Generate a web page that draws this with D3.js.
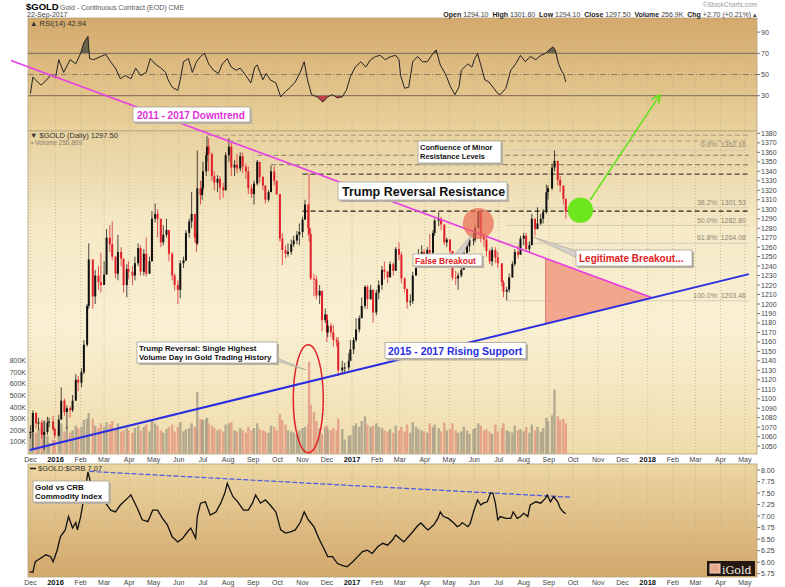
<!DOCTYPE html>
<html>
<head>
<meta charset="utf-8">
<script src="https://cdn.jsdelivr.net/npm/d3@7"></script>
<style>
  body { margin: 0; background: #fff; }
  svg { display: block; font-family: Arial, "Liberation Sans", sans-serif; }
</style>
</head>
<body>
<script>
// ---- data ----
// [date, high, low, close, volume (K)]
const priceRows = [
  ["2015-12-01",1072,1058,1065,190],["2015-12-04",1088,1046,1085,260],["2015-12-08",1086,1069,1074,180],
  ["2015-12-11",1080,1067,1075,210],["2015-12-15",1078,1058,1062,240],["2015-12-18",1077,1046,1065,280],
  ["2015-12-22",1081,1062,1075,150],["2015-12-24",1080,1070,1076,90],["2015-12-29",1082,1066,1068,120],
  ["2015-12-31",1070,1058,1061,110],["2016-01-05",1083,1060,1078,210],["2016-01-08",1112,1083,1098,260],
  ["2016-01-12",1100,1082,1086,190],["2016-01-15",1093,1068,1090,230],["2016-01-19",1092,1080,1088,180],
  ["2016-01-22",1104,1086,1098,200],["2016-01-26",1126,1098,1120,240],["2016-01-29",1124,1108,1117,220],
  ["2016-02-02",1132,1112,1128,230],["2016-02-05",1162,1126,1157,290],["2016-02-09",1200,1155,1198,300],
  ["2016-02-11",1264,1195,1247,350],["2016-02-16",1240,1195,1208,300],["2016-02-19",1236,1200,1230,240],
  ["2016-02-23",1240,1215,1223,220],["2016-02-26",1254,1212,1220,260],["2016-03-01",1245,1225,1231,230],
  ["2016-03-04",1279,1238,1270,270],["2016-03-08",1283,1255,1263,250],["2016-03-11",1287,1246,1250,280],
  ["2016-03-15",1250,1227,1232,210],["2016-03-18",1273,1225,1255,260],["2016-03-22",1260,1240,1248,190],
  ["2016-03-25",1240,1212,1220,200],["2016-03-29",1242,1207,1237,220],["2016-03-31",1245,1226,1234,200],
  ["2016-04-05",1240,1220,1230,180],["2016-04-08",1250,1225,1243,220],["2016-04-12",1264,1240,1259,240],
  ["2016-04-15",1262,1230,1234,200],["2016-04-19",1258,1230,1253,230],["2016-04-22",1270,1229,1232,250],
  ["2016-04-26",1250,1232,1245,190],["2016-04-29",1298,1245,1290,280],["2016-05-03",1306,1286,1295,260],
  ["2016-05-06",1300,1270,1290,240],["2016-05-10",1278,1260,1265,200],["2016-05-13",1283,1262,1273,180],
  ["2016-05-17",1290,1270,1278,210],["2016-05-20",1278,1245,1253,230],["2016-05-24",1255,1225,1230,250],
  ["2016-05-27",1232,1214,1220,190],["2016-05-31",1225,1200,1215,230],["2016-06-03",1246,1206,1243,270],
  ["2016-06-07",1250,1238,1246,190],["2016-06-10",1278,1245,1275,210],["2016-06-14",1290,1270,1287,220],
  ["2016-06-17",1318,1280,1295,260],["2016-06-21",1295,1265,1270,230],["2016-06-23",1275,1255,1264,210],
  ["2016-06-24",1362,1262,1322,530],["2016-06-28",1330,1305,1315,300],["2016-06-30",1330,1310,1322,280],
  ["2016-07-01",1350,1320,1340,290],["2016-07-05",1360,1335,1357,300],["2016-07-06",1377,1350,1366,310],
  ["2016-07-08",1375,1340,1358,260],["2016-07-12",1360,1330,1335,240],["2016-07-15",1340,1320,1328,220],
  ["2016-07-19",1336,1318,1332,200],["2016-07-22",1335,1310,1323,210],["2016-07-26",1328,1312,1320,190],
  ["2016-07-29",1360,1320,1357,250],["2016-08-02",1375,1350,1366,260],["2016-08-05",1370,1335,1344,270],
  ["2016-08-09",1352,1335,1347,200],["2016-08-12",1358,1338,1343,190],["2016-08-16",1360,1340,1356,220],
  ["2016-08-19",1360,1338,1345,200],["2016-08-23",1348,1332,1340,180],["2016-08-26",1345,1316,1322,230],
  ["2016-08-30",1326,1312,1316,200],["2016-09-02",1330,1305,1327,220],["2016-09-06",1352,1325,1350,260],
  ["2016-09-09",1345,1328,1334,210],["2016-09-13",1335,1320,1325,200],["2016-09-16",1325,1306,1310,190],
  ["2016-09-20",1320,1308,1318,180],["2016-09-23",1346,1330,1340,240],["2016-09-27",1345,1325,1330,230],
  ["2016-09-30",1330,1315,1316,200],["2016-10-04",1315,1266,1269,340],["2016-10-07",1275,1241,1257,290],
  ["2016-10-11",1262,1248,1253,250],["2016-10-14",1264,1250,1255,200],["2016-10-18",1268,1252,1263,190],
  ["2016-10-21",1272,1260,1267,180],["2016-10-25",1277,1263,1273,170],["2016-10-28",1285,1262,1276,200],
  ["2016-11-01",1292,1270,1289,220],["2016-11-04",1310,1290,1305,230],["2016-11-08",1300,1272,1280,250],
  ["2016-11-09",1338,1266,1274,790],["2016-11-11",1280,1225,1227,420],["2016-11-15",1232,1208,1226,360],
  ["2016-11-18",1230,1205,1209,280],["2016-11-22",1220,1200,1214,220],["2016-11-25",1195,1171,1183,170],
  ["2016-11-29",1195,1180,1189,230],["2016-12-01",1187,1160,1170,240],["2016-12-02",1183,1165,1177,210],
  ["2016-12-06",1180,1165,1170,200],["2016-12-09",1178,1155,1162,220],["2016-12-13",1165,1155,1160,200],
  ["2016-12-15",1165,1124,1130,300],["2016-12-20",1140,1126,1133,210],["2016-12-23",1138,1127,1133,120],
  ["2016-12-28",1148,1130,1140,150],["2016-12-30",1162,1140,1152,160],["2017-01-03",1165,1147,1162,240],
  ["2017-01-06",1185,1160,1173,260],["2017-01-10",1188,1170,1185,230],["2017-01-13",1207,1185,1198,280],
  ["2017-01-17",1220,1195,1218,320],["2017-01-20",1220,1195,1205,250],["2017-01-24",1220,1205,1215,230],
  ["2017-01-27",1215,1180,1191,240],["2017-01-31",1215,1188,1212,260],["2017-02-03",1225,1205,1220,230],
  ["2017-02-07",1240,1215,1236,220],["2017-02-10",1245,1226,1234,200],["2017-02-14",1235,1222,1228,190],
  ["2017-02-17",1245,1232,1242,210],["2017-02-21",1244,1230,1235,180],["2017-02-24",1260,1243,1258,240],
  ["2017-02-28",1265,1246,1252,200],["2017-03-03",1255,1222,1227,230],["2017-03-07",1228,1212,1216,190],
  ["2017-03-10",1210,1195,1202,250],["2017-03-14",1210,1198,1203,180],["2017-03-17",1234,1200,1230,270],
  ["2017-03-21",1250,1230,1246,230],["2017-03-24",1258,1242,1250,210],["2017-03-28",1262,1245,1255,200],
  ["2017-03-31",1258,1242,1249,190],["2017-04-04",1260,1245,1257,180],["2017-04-07",1274,1250,1254,260],
  ["2017-04-11",1278,1252,1275,230],["2017-04-13",1290,1272,1288,250],["2017-04-18",1297,1282,1290,220],
  ["2017-04-21",1292,1278,1284,190],["2017-04-25",1280,1262,1265,270],["2017-04-28",1270,1260,1268,200],
  ["2017-05-02",1268,1250,1256,210],["2017-05-05",1245,1225,1228,260],["2017-05-09",1235,1220,1227,200],
  ["2017-05-12",1233,1215,1230,180],["2017-05-16",1240,1228,1236,190],["2017-05-19",1262,1245,1254,230],
  ["2017-05-23",1265,1250,1261,200],["2017-05-26",1270,1255,1268,170],["2017-05-31",1275,1262,1268,210],
  ["2017-06-02",1283,1265,1280,220],["2017-06-06",1298,1280,1297,260],["2017-06-09",1295,1265,1271,240],
  ["2017-06-13",1275,1260,1268,200],["2017-06-16",1272,1250,1256,210],["2017-06-20",1258,1242,1245,190],
  ["2017-06-23",1260,1240,1257,170],["2017-06-27",1260,1243,1249,250],["2017-06-30",1255,1238,1243,190],
  ["2017-07-05",1242,1218,1223,220],["2017-07-07",1225,1207,1213,260],["2017-07-11",1218,1204,1215,200],
  ["2017-07-14",1232,1212,1228,190],["2017-07-18",1245,1228,1242,180],["2017-07-21",1258,1240,1255,240],
  ["2017-07-25",1262,1248,1252,200],["2017-07-28",1272,1252,1269,210],["2017-08-01",1275,1262,1272,190],
  ["2017-08-04",1275,1255,1258,230],["2017-08-08",1266,1254,1262,180],["2017-08-11",1295,1265,1290,250],
  ["2017-08-15",1290,1272,1279,200],["2017-08-18",1302,1280,1285,230],["2017-08-22",1295,1283,1290,190],
  ["2017-08-25",1300,1285,1297,220],["2017-08-29",1326,1295,1318,310],["2017-08-31",1325,1310,1322,280],
  ["2017-09-05",1348,1320,1344,330],["2017-09-08",1362,1340,1351,550],["2017-09-12",1345,1325,1331,320],
  ["2017-09-15",1335,1318,1325,290],["2017-09-19",1318,1305,1311,300],["2017-09-22",1302,1290,1297.5,260]
];

const rsiRows = [
  ["2015-12-01",32],["2015-12-04",47.6],["2015-12-07",45],["2015-12-14",40],["2015-12-20",44],["2015-12-26",49.5],
  ["2016-01-01",47],["2016-01-05",64],["2016-01-11",52],["2016-01-19",64],["2016-01-26",60],["2016-02-01",70],
  ["2016-02-05",80],["2016-02-10",86],["2016-02-12",65],["2016-02-17",64],["2016-02-26",67],["2016-03-03",69],
  ["2016-03-09",62],["2016-03-15",56],["2016-03-21",46],["2016-03-27",49],["2016-04-03",46],["2016-04-09",56],
  ["2016-04-15",49],["2016-04-22",52],["2016-04-27",65],["2016-05-03",60],["2016-05-10",56],["2016-05-16",52],
  ["2016-05-19",45],["2016-05-24",38],["2016-05-31",35],["2016-06-03",45],["2016-06-07",62],["2016-06-13",65],
  ["2016-06-18",52],["2016-06-23",62],["2016-06-28",67],["2016-07-03",70],["2016-07-08",60],["2016-07-14",54],
  ["2016-07-20",51],["2016-07-25",60],["2016-07-31",65],["2016-08-05",57],["2016-08-11",54],["2016-08-16",56],
  ["2016-08-23",49],["2016-08-29",42],["2016-09-03",57],["2016-09-06",59],["2016-09-13",45],["2016-09-17",51],
  ["2016-09-22",45],["2016-09-29",42],["2016-10-05",29],["2016-10-11",34],["2016-10-17",38],["2016-10-23",43],
  ["2016-10-29",52],["2016-11-03",62],["2016-11-07",45],["2016-11-12",31],["2016-11-19",29],["2016-11-26",24],
  ["2016-12-02",29],["2016-12-08",31],["2016-12-14",28],["2016-12-20",29],["2016-12-25",35],["2016-12-30",48],
  ["2017-01-05",57],["2017-01-12",62],["2017-01-18",57],["2017-01-24",64],["2017-01-30",67],["2017-02-05",68],
  ["2017-02-11",64],["2017-02-18",67],["2017-02-24",68],["2017-02-28",64],["2017-03-02",49],["2017-03-07",37],
  ["2017-03-12",38],["2017-03-17",62],["2017-03-23",67],["2017-03-29",62],["2017-04-04",62],["2017-04-12",71],
  ["2017-04-15",73],["2017-04-20",59],["2017-04-26",51],["2017-05-03",38],["2017-05-08",31],["2017-05-13",38],
  ["2017-05-16",54],["2017-05-24",60],["2017-05-29",57],["2017-06-01",64],["2017-06-05",70],["2017-06-09",59],
  ["2017-06-14",45],["2017-06-19",43],["2017-06-25",37],["2017-06-30",32],["2017-07-03",31],["2017-07-10",37],
  ["2017-07-16",54],["2017-07-22",60],["2017-07-28",68],["2017-08-03",62],["2017-08-09",67],["2017-08-16",64],
  ["2017-08-22",68],["2017-08-28",70],["2017-09-01",73],["2017-09-06",76],["2017-09-09",73],["2017-09-13",60],
  ["2017-09-17",53],["2017-09-19",51],["2017-09-22",42.94]
];

// $GOLD:$CRB ratio
const crbRows = [
  ["2015-11-30",5.79],["2015-12-04",5.78],["2015-12-07",6.01],["2015-12-13",6.08],["2015-12-20",6.16],["2015-12-26",6.12],
  ["2015-12-29",6.01],["2016-01-03",6.26],["2016-01-07",6.55],["2016-01-13",6.70],["2016-01-17",6.99],["2016-01-22",6.74],
  ["2016-01-26",6.86],["2016-01-28",6.70],["2016-02-01",6.99],["2016-02-06",7.49],["2016-02-10",7.96],["2016-02-13",7.75],
  ["2016-02-19",7.57],["2016-02-26",7.50],["2016-03-03",7.28],["2016-03-09",7.13],["2016-03-15",7.09],["2016-03-21",7.24],
  ["2016-03-30",7.39],["2016-04-03",7.46],["2016-04-06",7.35],["2016-04-11",7.17],["2016-04-17",6.92],["2016-04-24",6.88],
  ["2016-04-30",7.13],["2016-05-06",7.13],["2016-05-12",6.95],["2016-05-18",6.81],["2016-05-24",6.55],["2016-05-31",6.44],
  ["2016-06-06",6.52],["2016-06-12",6.66],["2016-06-16",6.74],["2016-06-22",6.52],["2016-06-24",6.99],["2016-06-28",7.28],
  ["2016-07-04",7.31],["2016-07-10",7.02],["2016-07-17",7.09],["2016-07-23",7.28],["2016-07-28",7.50],["2016-07-31",7.71],
  ["2016-08-07",7.42],["2016-08-13",7.31],["2016-08-20",7.13],["2016-08-26",7.13],["2016-08-31",7.28],["2016-09-04",7.46],
  ["2016-09-10",7.28],["2016-09-16",7.35],["2016-09-22",7.24],["2016-09-29",7.09],["2016-10-05",6.70],["2016-10-11",6.63],
  ["2016-10-17",6.66],["2016-10-23",6.70],["2016-10-29",6.86],["2016-11-03",7.09],["2016-11-08",6.92],["2016-11-15",6.77],
  ["2016-11-21",6.52],["2016-11-26",6.34],["2016-12-02",6.12],["2016-12-08",6.12],["2016-12-14",5.97],["2016-12-20",5.93],
  ["2016-12-26",5.90],["2017-01-02",6.01],["2017-01-08",6.12],["2017-01-14",6.23],["2017-01-20",6.26],["2017-01-26",6.19],
  ["2017-02-02",6.34],["2017-02-08",6.41],["2017-02-14",6.37],["2017-02-20",6.48],["2017-02-24",6.59],["2017-03-02",6.50],
  ["2017-03-06",6.44],["2017-03-11",6.54],["2017-03-17",6.66],["2017-03-23",6.79],["2017-03-27",6.85],["2017-04-02",6.74],
  ["2017-04-05",6.70],["2017-04-12",6.81],["2017-04-17",6.95],["2017-04-20",7.09],["2017-04-24",6.99],["2017-04-30",6.95],
  ["2017-05-06",6.86],["2017-05-11",6.77],["2017-05-15",6.81],["2017-05-17",6.86],["2017-05-24",6.77],["2017-05-27",6.84],
  ["2017-05-31",7.09],["2017-06-05",7.35],["2017-06-09",7.24],["2017-06-12",7.28],["2017-06-17",7.31],["2017-06-21",7.50],
  ["2017-06-24",7.50],["2017-06-27",7.28],["2017-06-30",6.92],["2017-07-03",6.99],["2017-07-10",6.95],["2017-07-16",6.95],
  ["2017-07-19",7.09],["2017-07-24",6.95],["2017-07-28",6.99],["2017-08-01",7.06],["2017-08-06",6.99],["2017-08-09",7.24],
  ["2017-08-16",7.31],["2017-08-22",7.28],["2017-08-28",7.39],["2017-08-30",7.46],["2017-09-03",7.31],["2017-09-07",7.42],
  ["2017-09-12",7.31],["2017-09-15",7.17],["2017-09-19",7.09],["2017-09-22",7.05]
];

// trendlines and levels drawn on the price panel
const downtrend = [["2015-11-07",1457],["2018-01-05",1207]];
const risingSupport = [["2015-11-30",1046],["2018-05-06",1231.5]];
const crbTrend = [["2016-02-12",7.97],["2017-09-27",7.41]];
const resistLevels = [1378, 1372, 1357, 1347, 1337, 1298];
const resistStarts = ["2016-07-06","2016-08-02","2016-09-06","2016-09-23","2016-11-01","2016-11-01"];
const resistColors = ["#a89c86","#a89c86","#8a7e6c","#7a6e5e","#4a4038","#222"];
const fibLabels = ["0.0%","38.2%","50.0%","61.8%","100.0%"];
const fibValues = [1362.16, 1301.53, 1282.80, 1264.08, 1203.46];
const rsiTicks = [90, 70, 50, 30];
const volTicks = [100, 200, 300, 400, 500, 600, 700, 800];
const crbTicks = [8.00, 7.75, 7.50, 7.25, 7.00, 6.75, 6.50, 6.25, 6.00, 5.75];

const parse = d3.timeParse("%Y-%m-%d");

const L = 28, R = 757;
const rsiTop = 18, rsiBot = 131, mainTop = 131, mainBot = 454, crbTop = 464, crbBot = 577;

const x = d3.scaleTime().domain([parse("2015-11-28"), parse("2018-05-16")]).range([L, R]);
const yRsi = d3.scaleLinear().domain([0, 100]).range([127.5, 21.5]);
const yPrice = d3.scaleLinear().domain([1200, 1380]).range([304, 133.4]);
const yVol = d3.scaleLinear().domain([0, 800]).range([453.6, 360.6]);
const yCrb = d3.scaleLinear().domain([5.75, 8]).range([573.7, 470]);

const svg = d3.select("body").append("svg").attr("width", 785).attr("height", 587);
const defs = svg.append("defs");

function vGrad(id, stops) {
  const g = defs.append("linearGradient").attr("id", id)
    .attr("x1", 0).attr("y1", 0).attr("x2", 0).attr("y2", 1);
  stops.forEach(s => g.append("stop").attr("offset", s[0]).attr("stop-color", s[1]));
}
vGrad("gRsi", [["0", "#d4a96c"], ["1", "#e9d29c"]]);
vGrad("gMain", [["0", "#e7d19e"], ["0.3", "#f5e9c6"], ["0.6", "#f9f0d3"], ["1", "#efdcab"]]);
vGrad("gCrb", [["0", "#ecd6a2"], ["1", "#d2a76b"]]);

// panels
[[rsiTop, rsiBot, "gRsi"], [mainTop, mainBot, "gMain"], [crbTop, crbBot, "gCrb"]].forEach(p => {
  svg.append("rect").attr("x", L).attr("y", p[0]).attr("width", R - L).attr("height", p[1] - p[0])
    .attr("fill", `url(#${p[2]})`).attr("stroke", "#b3a27e").attr("stroke-width", 0.8);
});

// month grid + labels
const months = d3.timeMonth.range(parse("2015-12-01"), parse("2018-05-02"));
const grid = svg.append("g").attr("stroke", "#c4b08a").attr("stroke-dasharray", "1,2").attr("stroke-width", 0.8);
[[rsiTop, rsiBot], [mainTop, mainBot], [crbTop, crbBot]].forEach(p => {
  grid.selectAll(null).data(months).enter().append("line")
    .attr("x1", d => x(d)).attr("x2", d => x(d)).attr("y1", p[0]).attr("y2", p[1]);
});
[459, 582].forEach(yy => {
  svg.append("g").selectAll("text").data(months).enter().append("text")
    .attr("x", d => x(d)).attr("y", yy + 2.5).attr("text-anchor", "middle")
    .attr("font-size", d => d.getMonth() === 0 ? 7.5 : 7)
    .attr("font-weight", d => d.getMonth() === 0 ? "bold" : "normal")
    .attr("fill", d => d.getMonth() === 0 ? "#111" : "#444")
    .text(d => d.getMonth() === 0 ? d3.timeFormat("%Y")(d) : d3.timeFormat("%b")(d));
});

// right-hand axes
function rightAxis(ticks, scale, fmt) {
  const g = svg.append("g");
  ticks.forEach(t => {
    g.append("line").attr("x1", R).attr("x2", R + 3).attr("y1", scale(t)).attr("y2", scale(t)).attr("stroke", "#777");
    g.append("text").attr("x", R + 4).attr("y", scale(t) + 2.5).attr("font-size", 7).attr("fill", "#444").text(fmt(t));
  });
}
rightAxis(rsiTicks, yRsi, d => d);
rightAxis(d3.range(1050, 1381, 10), yPrice, d => d);
rightAxis(crbTicks, yCrb, d3.format(".2f"));
volTicks.forEach(t => {
  svg.append("text").attr("x", 26).attr("y", yVol(t) + 2.5).attr("text-anchor", "end")
    .attr("font-size", 7).attr("fill", "#444").text(t + "K");
});

// ---- RSI panel ----
const rsi = rsiRows.map(r => ({ date: parse(r[0]), v: r[1] }));
[70, 30].forEach(v => svg.append("line").attr("x1", L).attr("x2", R).attr("y1", yRsi(v)).attr("y2", yRsi(v))
  .attr("stroke", "#8c7d64").attr("stroke-width", 1.2));
svg.append("line").attr("x1", L).attr("x2", R).attr("y1", yRsi(50)).attr("y2", yRsi(50))
  .attr("stroke", "#8c7d64").attr("stroke-dasharray", "6,2,1,2");
defs.append("clipPath").attr("id", "cAbove").append("rect")
  .attr("x", L).attr("y", rsiTop).attr("width", R - L).attr("height", yRsi(70) - rsiTop);
defs.append("clipPath").attr("id", "cBelow").append("rect")
  .attr("x", L).attr("y", yRsi(30)).attr("width", R - L).attr("height", rsiBot - yRsi(30));
svg.append("path").datum(rsi).attr("clip-path", "url(#cAbove)").attr("fill", "#6b624e")
  .attr("d", d3.area().x(d => x(d.date)).y0(yRsi(70)).y1(d => yRsi(d.v)));
svg.append("path").datum(rsi).attr("clip-path", "url(#cBelow)").attr("fill", "#c2404a")
  .attr("d", d3.area().x(d => x(d.date)).y0(yRsi(30)).y1(d => yRsi(d.v)));
svg.append("path").datum(rsi).attr("fill", "none").attr("stroke", "#222").attr("stroke-width", 1)
  .attr("d", d3.line().x(d => x(d.date)).y(d => yRsi(d.v)));

// ---- volume + price ----
const bars = priceRows.map((r, i) => ({
  date: parse(r[0]), high: r[1], low: r[2], close: r[3], vol: r[4],
  open: i ? priceRows[i - 1][3] : r[3]
}));
svg.append("g").selectAll("rect").data(bars).enter().append("rect")
  .attr("x", d => x(d.date) - 1.2).attr("width", 2.4)
  .attr("y", d => yVol(d.vol)).attr("height", d => yVol(0) - yVol(d.vol))
  .attr("fill", d => d.close >= d.open ? "#a8a08a" : "#e39a84").attr("opacity", 0.85);

// ellipse around the record-volume day
svg.append("ellipse").attr("cx", x(parse("2016-11-08"))).attr("cy", yPrice(1100))
  .attr("rx", 15).attr("ry", 54).attr("fill", "none").attr("stroke", "#e0242a").attr("stroke-width", 1.5);

// resistance levels (dashed)
resistLevels.forEach((lv, i) => {
  svg.append("line").attr("x1", x(parse(resistStarts[i]))).attr("x2", x(parse("2018-05-06")))
    .attr("y1", yPrice(lv)).attr("y2", yPrice(lv))
    .attr("stroke", resistColors[i]).attr("stroke-width", i >= 4 ? 1.4 : 1.1).attr("stroke-dasharray", "5,3");
});

// fibonacci levels
fibValues.forEach((v, i) => {
  svg.append("line").attr("x1", x(parse("2017-07-10"))).attr("x2", x(parse("2018-05-06")))
    .attr("y1", yPrice(v)).attr("y2", yPrice(v)).attr("stroke", "#cfc6b2").attr("stroke-width", 0.8);
  svg.append("text").attr("x", 746).attr("y", yPrice(v) - 3).attr("text-anchor", "end")
    .attr("font-size", 7).attr("fill", "#8e8674").text(`${fibLabels[i]}: ${d3.format(".2f")(v)}`);
});

// candles
const cg = svg.append("g");
bars.forEach(d => {
  const col = d.close >= d.open ? "#111" : "#e0202a";
  cg.append("line").attr("x1", x(d.date)).attr("x2", x(d.date)).attr("y1", yPrice(d.high)).attr("y2", yPrice(d.low))
    .attr("stroke", col).attr("stroke-width", 1).attr("opacity", 0.75);
  const top = yPrice(Math.max(d.open, d.close)), bot = yPrice(Math.min(d.open, d.close));
  cg.append("rect").attr("x", x(d.date) - 1).attr("width", 2).attr("y", top).attr("height", Math.max(1, bot - top))
    .attr("fill", col);
});

// red triangle between the two trendlines
const px = pts => pts.map(p => [x(parse(p[0])), yPrice(p[1])]);
const dt = px(downtrend), rs = px(risingSupport);
function yAt(seg, xx) { return seg[0][1] + (seg[1][1] - seg[0][1]) * (xx - seg[0][0]) / (seg[1][0] - seg[0][0]); }
const triX = x(parse("2017-08-28"));
const sd = (dt[1][1] - dt[0][1]) / (dt[1][0] - dt[0][0]);
const sr = (rs[1][1] - rs[0][1]) / (rs[1][0] - rs[0][0]);
const apexX = (rs[0][1] - sr * rs[0][0] - dt[0][1] + sd * dt[0][0]) / (sd - sr);
svg.append("path")
  .attr("d", `M${triX},${yAt(dt, triX)}L${apexX},${yAt(dt, apexX)}L${triX},${yAt(rs, triX)}Z`)
  .attr("fill", "#f09a82").attr("opacity", 0.85).attr("stroke", "#e05050").attr("stroke-width", 0.8);

// trendlines
svg.append("line").attr("x1", dt[0][0]).attr("y1", dt[0][1]).attr("x2", dt[1][0]).attr("y2", dt[1][1])
  .attr("stroke", "#e83ee8").attr("stroke-width", 1.6);
svg.append("line").attr("x1", rs[0][0]).attr("y1", rs[0][1]).attr("x2", rs[1][0]).attr("y2", rs[1][1])
  .attr("stroke", "#2a2ee0").attr("stroke-width", 2);

// false breakout circle, target circle + arrow
svg.append("circle").attr("cx", x(parse("2017-06-06"))).attr("cy", yPrice(1285)).attr("r", 15.5)
  .attr("fill", "#e8684f").attr("opacity", 0.7);
svg.append("circle").attr("cx", x(parse("2017-10-10"))).attr("cy", yPrice(1299)).attr("r", 12.7)
  .attr("fill", "#6ee61e");
defs.append("marker").attr("id", "arr").attr("viewBox", "0 0 10 10").attr("refX", 8).attr("refY", 5)
  .attr("markerWidth", 6).attr("markerHeight", 6).attr("orient", "auto")
  .append("path").attr("d", "M0,0L10,5L0,10").attr("fill", "none").attr("stroke", "#62e21a").attr("stroke-width", 2);
svg.append("line").attr("x1", x(parse("2017-10-22"))).attr("y1", yPrice(1309.7))
  .attr("x2", x(parse("2018-01-15"))).attr("y2", yPrice(1419.4))
  .attr("stroke", "#62e21a").attr("stroke-width", 1.5).attr("marker-end", "url(#arr)");

// ---- $GOLD:$CRB panel ----
const crb = crbRows.map(r => ({ date: parse(r[0]), v: r[1] }));
svg.append("line")
  .attr("x1", x(parse(crbTrend[0][0]))).attr("y1", yCrb(crbTrend[0][1]))
  .attr("x2", x(parse(crbTrend[1][0]))).attr("y2", yCrb(crbTrend[1][1]))
  .attr("stroke", "#4a58e6").attr("stroke-width", 1.2).attr("stroke-dasharray", "5,2");
svg.append("path").datum(crb).attr("fill", "none").attr("stroke", "#111").attr("stroke-width", 1.3)
  .attr("d", d3.line().x(d => x(d.date)).y(d => yCrb(d.v)));

// ---- callout boxes ----
function box(bx, by, w, h, lines, opt) {
  const g = svg.append("g");
  const lh = opt.lh || 0;
  g.append("rect").attr("x", bx + 2).attr("y", by + 2).attr("width", w).attr("height", h).attr("fill", "#b9b2a4");
  g.append("rect").attr("x", bx).attr("y", by).attr("width", w).attr("height", h)
    .attr("fill", "#fff").attr("stroke", "#a9a294").attr("stroke-width", 0.8);
  lines.forEach((t, i) => g.append("text").attr("x", bx + (opt.pad || 3)).attr("y", opt.base + i * lh)
    .attr("font-size", opt.size).attr("font-weight", "bold").attr("fill", opt.color).text(t));
}
function wedge(pts) {
  svg.append("path").attr("d", "M" + pts.map(p => p.join(",")).join("L") + "Z")
    .attr("fill", "#d4d0ca").attr("stroke", "#a9a294").attr("stroke-width", 0.6);
}
wedge([[455, 254], [463, 254], [472, 234]]);
wedge([[577, 251], [577, 258], [533, 237]]);
wedge([[272, 356], [277, 361], [306, 370]]);

box(133, 107, 117, 15, ["2011 - 2017 Downtrend"], { size: 10, base: 118.5, color: "#e030d8", pad: 4 });
box(338, 182, 169, 18, ["Trump Reversal Resistance"], { size: 12.5, base: 196, color: "#111", pad: 4 });
box(418, 141, 83, 22, ["Confluence of Minor", "Resistance Levels"], { size: 7.5, base: 150, lh: 9, color: "#111", pad: 2 });
box(413, 254, 69, 12, ["False Breakout"], { size: 8.5, base: 263.5, color: "#e02020", pad: 2 });
box(576, 250, 116, 16, ["Legitimate Breakout..."], { size: 10, base: 262, color: "#e02020", pad: 3 });
box(137, 342, 140, 21, ["Trump Reversal: Single Highest", "Volume Day in Gold Trading History"], { size: 7.8, base: 351, lh: 9, color: "#111", pad: 2 });
box(385, 342.5, 141, 16, ["2015 - 2017 Rising Support"], { size: 10.5, base: 355, color: "#2a2ee0", pad: 3 });
box(33, 481, 76, 21, ["Gold vs CRB", "Commodity Index"], { size: 8, base: 490, lh: 9, color: "#111", pad: 2 });

// ---- header / panel titles ----
svg.append("text").attr("x", 26).attr("y", 10).attr("font-size", 9.5).attr("font-weight", "bold").text("$GOLD");
svg.append("text").attr("x", 60).attr("y", 10).attr("font-size", 7).attr("fill", "#555")
  .text("Gold - Continuous Contract (EOD) CME");
svg.append("text").attr("x", 27).attr("y", 17).attr("font-size", 7).attr("fill", "#444").text("22-Sep-2017");
svg.append("text").attr("x", 757).attr("y", 7).attr("text-anchor", "end").attr("font-size", 6.5)
  .attr("fill", "#999").text("\u00A9StockCharts.com");
const hdr = svg.append("text").attr("x", 757).attr("y", 16.5).attr("text-anchor", "end").attr("font-size", 7).attr("fill", "#444");
[["Open", " 1294.10  "], ["High", " 1301.60  "], ["Low", " 1294.10  "], ["Close", " 1297.50  "],
 ["Volume", " 256.9K  "], ["Chg", " +2.70 (+0.21%) \u25B4"]].forEach(p => {
  hdr.append("tspan").attr("font-weight", "bold").attr("fill", "#222").text(p[0]);
  hdr.append("tspan").attr("xml:space", "preserve").text(p[1]);
});
svg.append("text").attr("x", 30).attr("y", 26).attr("font-size", 7.5).attr("fill", "#333").text("\u25B2 RSI(14) 42.94");
svg.append("text").attr("x", 30).attr("y", 138).attr("font-size", 7.5).attr("fill", "#333").text("\u25BC $GOLD (Daily) 1297.50");
svg.append("text").attr("x", 31).attr("y", 145).attr("font-size", 6.5).attr("fill", "#8a8272").text("\u25AA Volume 256,869");
svg.append("line").attr("x1", 30).attr("x2", 36).attr("y1", 468.5).attr("y2", 468.5).attr("stroke", "#111").attr("stroke-width", 1.5);
svg.append("text").attr("x", 38).attr("y", 471).attr("font-size", 7.5).attr("fill", "#333").text("$GOLD:$CRB 7.07");

// iGold badge
svg.append("rect").attr("x", 707).attr("y", 561).attr("width", 48).attr("height", 15).attr("fill", "#241710");
svg.append("rect").attr("x", 710).attr("y", 564).attr("width", 10).attr("height", 9).attr("fill", "#e8a890").attr("stroke", "#f5d2c0");
svg.append("text").attr("x", 722).attr("y", 574).attr("font-family", "'DejaVu Serif', serif").attr("font-size", 11)
  .attr("fill", "#f2ece4").text("iGold");
</script>
</body>
</html>
